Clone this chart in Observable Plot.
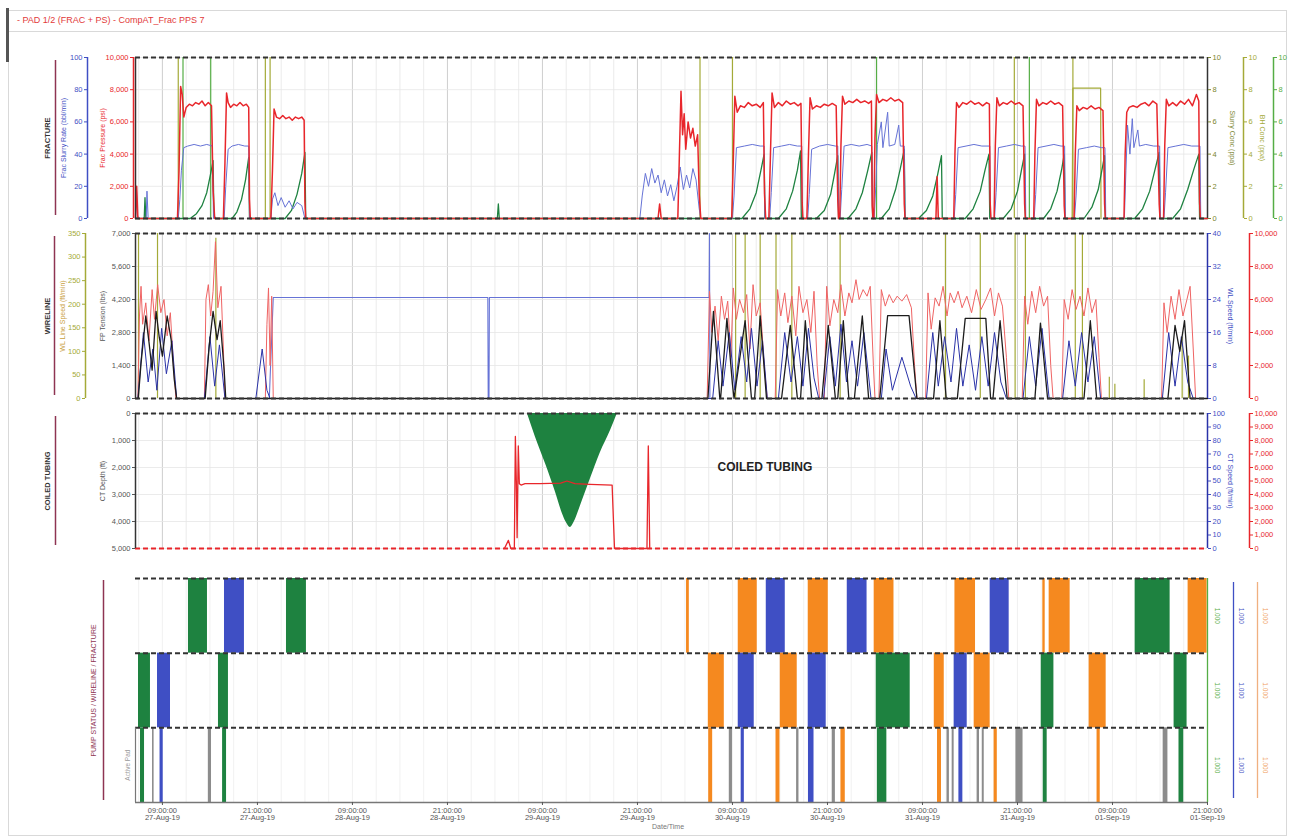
<!DOCTYPE html>
<html>
<head>
<meta charset="utf-8">
<script src="https://cdn.jsdelivr.net/npm/d3@7"></script>
<script src="https://cdn.jsdelivr.net/npm/@observablehq/plot@0.6"></script>
<style>
  body { margin: 0; background: #fff; font-family: "Liberation Sans", Arial, sans-serif; }
  #page { position: relative; width: 1293px; height: 839px; overflow: hidden; background: #fff; }
  #page svg { position: absolute; left: 0; }
  .hl { position: absolute; background: #d9d9d9; }
  #title { position: absolute; left: 17px; top: 15px; font-size: 9px; color: #e23a3a; white-space: nowrap; }
  #xlabel { position: absolute; left: 652px; top: 823px; font-size: 7px; color: #777; }
</style>
</head>
<body>
<div id="page">
  <div class="hl" style="left:8px;top:10px;width:1279px;height:1px"></div>
  <div class="hl" style="left:8px;top:31px;width:1279px;height:1px"></div>
  <div class="hl" style="left:1286px;top:10px;width:1px;height:826px"></div>
  <div class="hl" style="left:8px;top:835px;width:1279px;height:1px"></div>
  <div class="hl" style="left:8px;top:10px;width:1px;height:826px"></div>
  <div style="position:absolute;left:6px;top:8px;width:3px;height:54px;background:#555"></div>
  <div id="title">- PAD 1/2 (FRAC + PS) - CompAT_Frac PPS 7</div>
  <div id="xlabel">Date/Time</div>
</div>
<script>
// ---------- time axis (hours since 27-Aug-19 00:00) ----------
const xTickHours = [9, 21, 33, 45, 57, 69, 81, 93, 105, 117, 129, 141];
const xTickLabels = [
  "09:00:00\n27-Aug-19", "21:00:00\n27-Aug-19", "09:00:00\n28-Aug-19", "21:00:00\n28-Aug-19",
  "09:00:00\n29-Aug-19", "21:00:00\n29-Aug-19", "09:00:00\n30-Aug-19", "21:00:00\n30-Aug-19",
  "09:00:00\n31-Aug-19", "21:00:00\n31-Aug-19", "09:00:00\n01-Sep-19", "21:00:00\n01-Sep-19"
];

// ---------- FRACTURE panel ----------
const fracPressureTicks = [0, 2000, 4000, 6000, 8000, 10000];   // psi
const fracRateTicks = [0, 20, 40, 60, 80, 100];                  // bbl/min
const concTicks = [0, 2, 4, 6, 8, 10];                           // ppa

const fracPressure = [
  [5.6,0],[5.75,2000],[5.9,0],
  [10.9,0],[11.1,3000],[11.3,8200],[11.5,7700],[11.7,6300],[12.0,6900],[12.4,7100],[12.8,7000],[13.2,7200],[13.6,7100],[14.0,7300],[14.4,7000],[14.8,7200],[15.2,7000],[15.4,1800],[15.6,0],
  [16.7,0],[16.9,3500],[17.1,7800],[17.3,7200],[17.6,6900],[18.0,7100],[18.4,7000],[18.8,7200],[19.2,7000],[19.6,7100],[19.9,6900],[20.0,1200],[20.1,0],
  [22.7,0],[22.9,3000],[23.1,6800],[23.4,6300],[23.8,6200],[24.2,6400],[24.6,6200],[25.0,6300],[25.4,6100],[25.8,6300],[26.2,6200],[26.6,6300],[26.9,6100],[27.0,1000],[27.1,0],
  [71.6,0],[71.8,900],[72.0,0],
  [74.1,0],[74.3,4000],[74.5,7900],[74.7,5200],[74.9,6500],[75.1,4300],[75.4,6000],[75.7,5000],[76.0,5600],[76.3,4500],[76.6,5200],[76.8,1500],[77.0,0],
  [80.9,0],[81.1,3500],[81.3,7600],[81.6,6600],[82.0,7000],[82.5,6900],[83.0,7200],[83.5,7000],[84.0,7100],[84.5,6900],[84.9,7200],[85.05,1500],[85.2,0],
  [85.6,0],[85.8,4000],[86.0,7800],[86.3,6900],[86.8,7200],[87.3,7000],[87.8,7300],[88.3,7100],[88.8,7200],[89.3,7000],[89.65,7150],[89.8,1000],[89.9,0],
  [90.4,0],[90.6,4000],[90.8,7500],[91.1,6800],[91.6,7000],[92.1,6900],[92.6,7100],[93.1,7000],[93.6,7150],[94.1,7000],[94.3,1200],[94.4,0],
  [94.55,0],[94.7,4500],[94.9,7600],[95.2,7100],[95.7,7300],[96.2,7200],[96.7,7400],[97.2,7200],[97.7,7300],[98.2,7150],[98.55,7300],[98.65,800],[98.75,0],
  [98.85,0],[99.0,5000],[99.2,7700],[99.5,7200],[100.0,7400],[100.5,7300],[101.0,7500],[101.5,7300],[102.0,7400],[102.5,7200],[102.7,900],[102.8,0],
  [106.7,0],[106.85,2600],[107.0,0],
  [108.95,0],[109.1,4000],[109.3,7200],[109.6,6900],[110.1,7200],[110.6,7100],[111.1,7300],[111.6,7100],[112.1,7200],[112.6,7000],[113.1,7200],[113.45,7100],[113.55,1000],[113.65,0],
  [114.05,0],[114.2,4500],[114.4,7500],[114.7,7000],[115.2,7200],[115.7,7100],[116.2,7300],[116.7,7100],[117.2,7200],[117.7,7000],[117.9,900],[118.0,0],
  [119.05,0],[119.2,4000],[119.4,7400],[119.7,7000],[120.2,7200],[120.7,7100],[121.2,7300],[121.7,7100],[122.2,7200],[122.7,7000],[122.9,800],[123.0,0],
  [124.15,0],[124.3,4000],[124.5,7000],[124.8,6700],[125.3,6900],[125.8,6800],[126.3,7000],[126.8,6800],[127.3,6900],[127.8,6700],[128.0,900],[128.1,0],
  [130.45,0],[130.6,4000],[130.8,6600],[131.1,6900],[131.6,7000],[132.1,6900],[132.6,7100],[133.1,7200],[133.6,7000],[134.1,7300],[134.6,7100],[134.9,900],[135.0,0],
  [135.45,0],[135.6,4500],[135.8,7400],[136.1,7000],[136.6,7200],[137.1,7000],[137.6,7300],[138.1,7100],[138.6,7400],[139.1,7000],[139.6,7700],[139.9,7300],[140.0,1000],[140.1,0],
  [141,0]
];

const fracRate = [
  [5.6,0],[5.72,19],[5.85,2],[6.0,0],[6.95,0],[7.05,17],[7.2,0],
  [11.0,0],[11.2,12],[11.4,30],[11.7,44],[12.2,45],[13.0,46],[13.8,45],[14.6,46],[15.3,45],[15.45,0],
  [16.8,0],[17.0,20],[17.3,43],[17.8,45],[18.6,46],[19.4,45],[19.9,45],[20.0,0],
  [22.7,0],[22.9,12],[23.2,16],[23.6,8],[24.0,13],[24.5,7],[25.0,11],[25.5,6],[26.0,10],[26.6,8],[27.0,0],
  [69.3,0],[69.6,14],[70.0,28],[70.4,20],[70.8,31],[71.2,22],[71.6,27],[72.0,16],[72.4,24],[72.8,14],[73.2,21],[73.6,11],[74.0,20],[74.4,32],[74.8,18],[75.2,27],[75.6,19],[76.0,31],[76.4,24],[76.8,6],[77.0,0],
  [81.0,0],[81.2,14],[81.5,44],[82.5,45],[83.5,46],[84.5,45],[85.0,45],[85.1,0],
  [85.7,0],[85.9,16],[86.2,44],[87.2,45],[88.2,46],[89.2,45],[89.75,45],[89.85,0],
  [90.5,0],[90.7,15],[91.0,43],[92.0,45],[93.0,46],[94.0,45],[94.3,45],[94.4,0],
  [94.6,0],[94.8,18],[95.1,45],[96.0,46],[97.0,45],[98.0,46],[98.6,45],[98.7,0],
  [98.9,0],[99.1,20],[99.3,46],[99.8,60],[100.0,44],[100.6,66],[100.8,45],[101.5,46],[102.0,58],[102.2,45],[102.7,45],[102.8,0],
  [109.0,0],[109.2,15],[109.5,44],[110.5,45],[111.5,46],[112.5,45],[113.5,45],[113.6,0],
  [114.1,0],[114.3,16],[114.6,44],[115.6,45],[116.6,46],[117.5,45],[117.95,45],[118.05,0],
  [119.1,0],[119.3,15],[119.6,44],[120.6,45],[121.6,46],[122.5,45],[122.95,45],[123.05,0],
  [124.2,0],[124.4,14],[124.7,43],[125.7,44],[126.7,45],[127.6,44],[128.05,44],[128.15,0],
  [130.5,0],[130.7,30],[130.9,58],[131.2,40],[131.5,62],[131.7,44],[132.2,55],[132.4,45],[133.2,46],[134.2,45],[134.95,45],[135.05,0],
  [135.5,0],[135.7,16],[136.0,44],[137.0,45],[138.0,46],[139.0,45],[140.05,45],[140.15,0],
  [141,0]
];

const slurryConc = [
  [5.6,0],[6.7,0],[6.8,1.3],[6.9,0],
  [12.5,0],[13.3,0.3],[14.0,0.8],[14.6,1.6],[15.1,2.8],[15.4,3.6],[15.5,0.2],[15.7,0],
  [17.8,0],[18.4,0.4],[19.0,1.2],[19.5,2.4],[19.9,3.8],[20.0,0],
  [24.5,0],[25.3,0.5],[26.0,1.5],[26.6,2.8],[27.0,4.1],[27.1,0],
  [51.3,0],[51.43,0.9],[51.55,0],
  [82.2,0],[83.2,0.6],[84.0,1.6],[84.6,3.0],[85.0,4.0],[85.1,0],
  [86.8,0],[87.8,0.6],[88.6,1.7],[89.2,3.0],[89.6,4.2],[89.7,0],
  [91.6,0],[92.6,0.5],[93.4,1.5],[93.9,2.8],[94.3,3.9],[94.4,0],
  [95.6,0],[96.6,0.6],[97.4,1.6],[98.1,3.0],[98.6,4.1],[98.7,0],
  [99.8,0],[100.8,0.6],[101.6,1.8],[102.2,3.1],[102.7,4.3],[102.8,0],
  [104.5,0],[105.5,0.5],[106.3,1.4],[106.9,2.7],[107.4,3.9],[107.5,0],
  [110.4,0],[111.4,0.6],[112.3,1.7],[112.9,3.0],[113.4,4.0],[113.5,0],
  [115.2,0],[116.2,0.6],[117.0,1.7],[117.5,3.0],[117.9,4.0],[118.0,0],
  [120.3,0],[121.2,0.6],[122.0,1.7],[122.6,3.1],[122.9,4.0],[123.0,0],
  [125.4,0],[126.4,0.7],[127.2,1.8],[127.7,3.1],[128.0,3.9],[128.1,0],
  [131.8,0],[132.8,0.6],[133.7,1.7],[134.4,3.1],[134.9,4.1],[135.0,0],
  [136.6,0],[137.6,0.6],[138.5,1.8],[139.3,3.1],[139.9,4.0],[140.0,0],
  [141,0]
];

const bhConc = [
  [123.9,0],[124.0,8.1],[127.5,8.1],[127.55,0]
];
const fracOliveSpikes = [11.0, 22.0, 22.6, 76.9, 81.0, 116.6, 124.0];
const fracGreenSpikes = [11.6, 15.1, 99.2, 118.5];

// ---------- WIRELINE panel ----------
const wlTensionTicks = [0, 1400, 2800, 4200, 5600, 7000];   // lbs
const wlLineTicks = [0, 50, 100, 150, 200, 250, 300, 350];  // olive outer axis
const wlSpeedTicks = [0, 8, 16, 24, 32, 40];                // ft/min
const wlPressTicks = [0, 2000, 4000, 6000, 8000, 10000];    // psi

const wlTension = [
  [5.6,0],[5.95,0],[6.3,1500],[6.9,3500],[7.3,2400],[7.7,1200],[8.2,3700],[8.6,2600],[9.0,1800],[9.6,3500],[10.1,2500],[10.5,800],[10.8,0],
  [14.4,0],[14.9,2200],[15.4,3700],[15.9,2500],[16.3,3300],[16.8,1200],[17.0,0],
  [77.9,0],[78.6,3700],[79.4,0],[79.5,0],[80.3,3400],[81.0,600],[81.2,0],[82.6,3300],[83.4,0],
  [83.8,0],[84.5,3500],[85.3,0],[87.2,0],[88.3,3100],[89.2,0],[89.6,0],[90.2,3300],[91.0,0],
  [92.3,0],[93.1,3100],[94.0,0],[94.3,0],[95.0,3300],[95.7,0],[96.4,0],[97.4,3500],[98.2,0],
  [99.6,0],[100.6,3520],[103.3,3520],[104.3,0],
  [106.4,0],[107.2,3300],[108.0,0],
  [109.4,0],[110.4,3400],[113.0,3400],[113.6,0],
  [113.9,0],[114.8,3300],[115.7,0],
  [119.2,0],[119.9,3200],[120.8,0],
  [125.4,0],[126.2,3300],[127.0,0],
  [136.0,0],[136.9,3100],[137.5,2000],[138.1,3300],[138.8,0],
  [141,0]
];

const wlPressure = [
  [5.9,0],[6.1,5000],[6.3,6800],[6.5,4500],[6.9,5800],[7.3,3500],[7.7,6600],[8.0,4800],[8.4,6900],[8.8,5200],[9.2,6000],[9.6,3800],[10.0,5200],[10.4,2000],[10.7,0],
  [14.3,0],[14.5,6000],[14.8,6900],[15.1,5000],[15.4,6500],[15.7,9500],[16.0,5500],[16.4,6800],[16.7,3000],[16.9,0],
  [22.0,0],[22.2,4500],[22.4,6700],[22.6,2000],[22.8,6200],[23.0,0],
  [77.8,0],[78.1,6500],[78.4,4000],[78.8,5600],[79.2,3500],[79.6,6200],[80.0,4800],[80.4,5900],[80.8,2500],[81.1,6700],[81.5,4800],[81.9,6000],[82.4,5200],[82.8,6300],[83.2,3000],[83.6,6900],[84.0,5000],[84.5,5800],[85.0,2000],[85.4,0],
  [86.4,0],[86.7,6600],[87.1,5000],[87.6,6400],[88.0,4600],[88.5,6200],[89.0,3800],[89.4,6800],[89.9,5200],[90.4,6000],[90.9,4000],[91.3,6500],[91.7,2000],[92.0,0],
  [92.6,0],[92.9,6800],[93.3,4400],[93.8,6000],[94.3,5200],[94.7,6900],[95.2,5000],[95.7,6400],[96.1,5800],[96.6,7200],[97.0,6000],[97.5,6600],[98.0,6200],[98.4,6800],[98.8,2000],[99.0,0],
  [99.5,0],[99.8,6600],[100.3,5600],[100.8,6300],[101.3,5800],[101.8,6200],[102.4,5900],[103.0,6300],[103.6,5500],[104.0,2000],[104.3,0],
  [105.4,0],[105.7,6400],[106.1,4200],[106.6,6100],[107.1,5600],[107.6,6800],[108.1,5000],[108.5,6400],[109.0,5800],[109.5,6500],[110.0,5500],[110.6,6200],[111.2,5200],[111.8,6600],[112.4,5400],[113.0,6000],[113.6,6700],[114.1,5000],[114.6,6400],[115.1,5600],[115.6,2500],[115.9,0],
  [117.6,0],[117.9,6200],[118.3,4500],[118.8,6500],[119.3,5200],[119.8,6800],[120.3,5600],[120.8,6200],[121.2,2000],[121.5,0],
  [122.6,0],[122.9,6000],[123.4,4800],[123.9,6600],[124.4,5400],[124.9,6200],[125.4,5000],[125.9,6700],[126.4,5200],[126.9,6000],[127.3,2500],[127.6,0],
  [135.2,0],[135.5,5800],[135.9,4000],[136.4,6200],[136.9,4800],[137.4,6600],[137.9,5000],[138.4,6000],[138.8,6800],[139.2,3000],[139.5,0]
];

const wlSpeed = [
  [5.9,0],[6.6,16],[7.2,4],[7.8,12],[8.3,2],[8.9,17],[9.5,6],[10.2,14],[10.8,0],
  [14.3,0],[15.0,15],[15.6,3],[16.2,13],[16.9,0],
  [20.8,0],[21.6,12],[22.2,2],[22.6,0],
  [78.5,0],[79.2,14],[79.8,3],[80.6,16],[81.3,2],[82.1,15],[82.8,4],[83.4,17],[84.1,3],[84.8,14],[85.4,0],
  [86.8,0],[87.6,16],[88.4,4],[89.2,15],[89.9,3],[90.6,17],[91.3,5],[91.9,0],
  [92.5,0],[93.3,15],[94.0,3],[94.7,18],[95.4,4],[96.1,14],[96.8,3],[97.6,16],[98.5,0],
  [99.8,0],[100.4,12],[101.2,2],[102.4,10],[103.5,3],[104.2,0],
  [105.5,0],[106.3,16],[107.0,3],[107.8,15],[108.6,4],[109.3,17],[110.1,3],[110.9,13],[111.7,2],[112.5,15],[113.3,3],[114.1,16],[114.9,4],[115.6,0],
  [117.7,0],[118.5,15],[119.3,3],[120.1,17],[121.0,0],
  [122.7,0],[123.5,14],[124.3,3],[125.1,16],[125.9,4],[126.7,15],[127.5,0],
  [135.3,0],[136.1,16],[136.9,3],[137.7,15],[138.5,4],[139.2,0]
];

const wlDepthTrace = [   // ft/min scale units
  [22.5,0],[23.0,24.5],[50.1,24.5],[50.15,0],[50.25,0],[50.3,24.5],[78.05,24.5],[78.1,40],[78.15,0]
];

const wlOliveSpikes = [   // [hour, value on tension scale]
  [5.98,7000],[8.38,7000],[15.75,6800],[81.4,7000],[82.6,7000],[84.5,7000],[86.5,7000],[88.5,7000],
  [94.6,7000],[107.9,7000],[112.3,7000],[116.7,7000],[118.0,7000],[124.3,7000],[125.2,7000],
  [128.6,900],[129.3,600],[133.0,800],[137.8,2600],[138.6,1800]
];

// ---------- COILED TUBING panel ----------
const ctDepthTicks = [0, 1000, 2000, 3000, 4000, 5000];      // ft
const ctSpeedTicks = [0,10,20,30,40,50,60,70,80,90,100];      // ft/min
const ctPressTicks = [0,1000,2000,3000,4000,5000,6000,7000,8000,9000,10000]; // psi

const ctDepth = [
  [55.1,0],[56.1,860],[57.4,1870],[58.6,2870],[59.5,3690],[60.0,4030],[60.52,4220],
  [61.0,4030],[61.8,3430],[63.05,2430],[64.3,1460],[65.6,630],[66.46,0]
];
const ctPressure = [
  [52.2,0],[52.7,600],[53.0,0],[53.45,0],[53.58,8300],[53.7,5000],[53.8,800],[53.95,7600],[54.08,4800],
  [54.3,4700],[54.8,4800],[56.7,4800],[59.3,4850],[60.1,5000],[61.1,4800],[63.0,4750],[65.8,4700],[66.1,0],
  [70.2,0],[70.37,7600],[70.55,0]
];
const ctAnnotation = [{hour: 85.1, depth: 2000, text: "COILED TUBING"}];

// ---------- PUMP STATUS / WIRELINE / FRACTURE panel ----------
const wells = ["Well 1", "Well 2", "Well 3", "Idle"];
const fracStatus = [
  [12.29,14.69,"Well 1"],[16.84,19.36,"Well 2"],[24.67,27.19,"Well 1"],[75.2,75.55,"Well 3"],
  [81.73,84.13,"Well 3"],[85.27,87.67,"Well 2"],[90.57,93.1,"Well 3"],[95.5,98.0,"Well 2"],
  [98.9,101.4,"Well 3"],[109.1,111.7,"Well 3"],[113.55,115.95,"Well 2"],[120.2,120.5,"Well 3"],
  [121.0,123.65,"Well 3"],[131.86,136.28,"Well 1"],[138.55,140.95,"Well 3"]
];
const wlStatus = [
  [5.98,7.49,"Well 1"],[8.38,10.02,"Well 2"],[16.08,17.34,"Well 1"],[77.95,79.97,"Well 3"],
  [81.73,83.75,"Well 2"],[87.04,89.18,"Well 3"],[90.57,92.84,"Well 2"],[99.16,103.45,"Well 1"],
  [106.49,107.75,"Well 3"],[109.0,110.65,"Well 2"],[111.53,113.55,"Well 3"],[120.0,121.6,"Well 1"],
  [126.05,128.2,"Well 3"],[136.78,138.42,"Well 1"]
];
const pumpStatus = [
  [6.23,6.74,"Well 1"],[7.75,7.95,"Idle"],[8.7,9.1,"Well 2"],[14.8,15.2,"Idle"],[16.6,17.1,"Well 1"],
  [78.0,78.5,"Well 3"],[80.6,81.0,"Idle"],[82.1,82.5,"Well 2"],[86.5,87.0,"Well 3"],[89.1,89.4,"Idle"],
  [90.6,91.3,"Well 2"],[93.6,94.0,"Idle"],[94.7,95.25,"Well 3"],[99.3,100.5,"Well 1"],[106.9,107.4,"Well 3"],
  [108.1,108.4,"Idle"],[108.75,109.0,"Idle"],[109.6,110.1,"Well 2"],[111.9,112.2,"Idle"],[112.55,112.8,"Idle"],
  [114.05,114.45,"Well 3"],[116.8,117.7,"Idle"],[120.25,120.75,"Well 1"],[127.05,127.45,"Well 3"],
  [135.4,136.0,"Idle"],[137.4,138.0,"Well 1"]
];
const statusRows = [
  {row: 2.5, green: "1.000", blue: "1.000", orange: "1.000"},
  {row: 1.5, green: "1.000", blue: "1.000", orange: "1.000"},
  {row: 0.5, green: "1.000", blue: "1.000", orange: "1.000"}
];

// ---------- rendering ----------
const FONT = '"Liberation Sans", Arial, sans-serif';
const X0 = 5.6, X1 = 141, W = 1293, ML = 135, MR = 86;
const COL = {
  red: "#e8262b", pink: "#ef6464", blue: "#3f4fc4", lav: "#6673d6", navy: "#2a32a8",
  green: "#1e8240", lgreen: "#55ad45", olive: "#a4aa38", darkOlive: "#7b8530",
  orange: "#f5891f", grey: "#8c8c8c", black: "#1c1c1c", maroon: "#8e3452", axis: "#555"
};
const fmt = d3.format(",");
const gridFine = d3.range(6, 142, 3);
const page = document.getElementById("page");

function common(top, bottom, extraBottom = 0) {
  return {
    width: W, height: bottom - top + 20 + extraBottom,
    marginLeft: ML, marginRight: MR, marginTop: 10, marginBottom: 10 + extraBottom,
    style: {background: "transparent", fontFamily: FONT, fontSize: "7.5px", overflow: "visible"}
  };
}
function place(svg, top) { svg.style.top = (top - 10) + "px"; page.appendChild(svg); }
function frame(yTop, yBot, o = {}) {
  return [
    Plot.ruleY([yTop], {stroke: o.top || "#333", strokeWidth: 2, strokeDasharray: "5,3"}),
    Plot.ruleY([yBot], {stroke: o.bottom || "#333", strokeWidth: 2, strokeDasharray: "5,3"}),
    Plot.ruleX([X0], {stroke: o.left || "#333", strokeWidth: 1.5}),
    Plot.ruleX([X1], {stroke: o.right || "#333", strokeWidth: 1.5})
  ];
}
function axisAt(values, toY, fromY, anchor, dx, color) {
  return Plot.axisY(values.map(toY), {
    anchor, dx, color, label: null, tickSize: 3, tickPadding: 2,
    tickFormat: d => fmt(Math.round(fromY(d)))
  });
}
function axisLine(side, dx, color, w = 1.5) {
  return Plot.ruleX([side === "left" ? X0 : X1], {dx, stroke: color, strokeWidth: w});
}
function vtitle(text, side, dx, color, rotate, extra = {}) {
  return Plot.text([text], {
    text: d => d, frameAnchor: side, dx, rotate, fill: color,
    textAnchor: "middle", lineAnchor: "middle", fontSize: 7, ...extra
  });
}
function section(text, dxText, dxLine) {
  return [
    Plot.ruleX([X0], {dx: dxLine, stroke: COL.maroon, strokeWidth: 1.5, insetTop: 3, insetBottom: 3}),
    vtitle(text, "left", dxText, "#333", -90, {fontWeight: "bold", fontSize: 7.5})
  ];
}
function grid(hLines) {
  return [
    Plot.ruleX(gridFine, {stroke: "#e6e6e6", strokeWidth: 0.8}),
    Plot.ruleX(xTickHours, {stroke: "#c9c9c9", strokeWidth: 0.8}),
    Plot.ruleY(hLines, {stroke: "#e6e6e6", strokeWidth: 0.8})
  ];
}
const X = d => d[0];

// Panel 1: FRACTURE
place(Plot.plot({
  ...common(57, 218),
  x: {domain: [X0, X1], axis: null},
  y: {domain: [0, 10000]},
  marks: [
    ...grid(fracPressureTicks),
    Plot.ruleX(fracOliveSpikes, {x: d => d, stroke: COL.olive, strokeWidth: 1.2}),
    Plot.ruleX(fracGreenSpikes, {x: d => d, stroke: COL.lgreen, strokeWidth: 1.2}),
    Plot.line(bhConc, {x: X, y: d => d[1] * 1000, stroke: COL.olive, strokeWidth: 1.2}),
    Plot.line(slurryConc, {x: X, y: d => d[1] * 1000, stroke: COL.green, strokeWidth: 1.3}),
    Plot.line(fracRate, {x: X, y: d => d[1] * 100, stroke: COL.lav, strokeWidth: 1}),
    Plot.line(fracPressure, {x: X, y: d => d[1], stroke: COL.red, strokeWidth: 1.5}),
    ...frame(10000, 0),
    axisLine("left", -2, COL.red),
    axisAt(fracPressureTicks, v => v, d => d, "left", -2, COL.red),
    vtitle("Frac Pressure (psi)", "left", -33, COL.red, -90),
    axisLine("left", -48, COL.blue),
    axisAt(fracRateTicks, v => v * 100, d => d / 100, "left", -48, COL.blue),
    vtitle("Frac Slurry Rate (bbl/min)", "left", -72, COL.blue, -90),
    ...section("FRACTURE", -88, -80),
    axisAt(concTicks, v => v * 1000, d => d / 1000, "right", 0, COL.darkOlive),
    vtitle("Slurry Conc (ppa)", "right", 25, COL.darkOlive, 90),
    axisLine("right", 36, COL.olive),
    axisAt(concTicks, v => v * 1000, d => d / 1000, "right", 36, COL.olive),
    vtitle("BH Conc (ppa)", "right", 55, COL.olive, 90),
    axisLine("right", 66, COL.lgreen),
    axisAt(concTicks, v => v * 1000, d => d / 1000, "right", 66, COL.lgreen)
  ]
}), 57);

// Panel 2: WIRELINE
place(Plot.plot({
  ...common(233, 398),
  x: {domain: [X0, X1], axis: null},
  y: {domain: [0, 7000]},
  marks: [
    ...grid(wlTensionTicks),
    Plot.ruleX(wlOliveSpikes, {x: X, y1: 0, y2: d => d[1], stroke: COL.olive, strokeWidth: 1.2}),
    Plot.line(wlDepthTrace, {x: X, y: d => d[1] * 175, stroke: COL.lav, strokeWidth: 1.1}),
    Plot.line(wlPressure, {x: X, y: d => d[1] * 0.7, stroke: COL.pink, strokeWidth: 1}),
    Plot.line(wlSpeed, {x: X, y: d => d[1] * 175, stroke: COL.navy, strokeWidth: 1}),
    Plot.line(wlTension, {x: X, y: d => d[1], stroke: COL.black, strokeWidth: 1.3}),
    ...frame(7000, 0, {right: COL.navy}),
    axisAt(wlTensionTicks, v => v, d => d, "left", 0, COL.axis),
    vtitle("FP Tension (lbs)", "left", -33, COL.axis, -90),
    axisLine("left", -50, COL.olive),
    axisAt(wlLineTicks, v => v * 20, d => d / 20, "left", -50, COL.olive),
    vtitle("WL Line Speed (ft/min)", "left", -73, "#c9a040", -90),
    ...section("WIRELINE", -88, -81),
    axisAt(wlSpeedTicks, v => v * 175, d => d / 175, "right", 0, COL.blue),
    vtitle("WL Speed (ft/min)", "right", 23, COL.blue, 90),
    axisLine("right", 42, COL.red),
    axisAt(wlPressTicks, v => v * 0.7, d => d / 0.7, "right", 42, COL.red)
  ]
}), 233);

// Panel 3: COILED TUBING
place(Plot.plot({
  ...common(413, 548),
  x: {domain: [X0, X1], axis: null},
  y: {domain: [0, 5000], reverse: true},
  marks: [
    ...grid(ctDepthTicks),
    Plot.areaY(ctDepth, {x: X, y1: 0, y2: d => d[1], fill: COL.green, curve: "monotone-x"}),
    Plot.line(ctPressure, {x: X, y: d => 5000 - d[1] / 2, stroke: COL.red, strokeWidth: 1.3}),
    Plot.text(ctAnnotation, {x: "hour", y: "depth", text: "text", fill: "#222", fontSize: 12, fontWeight: "bold", textAnchor: "middle"}),
    ...frame(0, 5000, {right: COL.navy, bottom: COL.red}),
    axisAt(ctDepthTicks, v => v, d => d, "left", 0, COL.axis),
    vtitle("CT Depth (ft)", "left", -33, COL.axis, -90),
    ...section("COILED TUBING", -88, -80),
    axisAt(ctSpeedTicks, v => 5000 - v * 50, d => (5000 - d) / 50, "right", 0, COL.blue),
    vtitle("CT Speed (ft/min)", "right", 23, COL.blue, 90),
    axisLine("right", 42, COL.red),
    axisAt(ctPressTicks, v => 5000 - v / 2, d => (5000 - d) * 2, "right", 42, COL.red)
  ]
}), 413);

// Panel 4: status rows
place(Plot.plot({
  ...common(578, 802, 27),
  x: {domain: [X0, X1]},
  y: {domain: [0, 3], axis: null},
  color: {domain: wells, range: [COL.green, COL.blue, COL.orange, COL.grey]},
  marks: [
    Plot.ruleX(gridFine, {stroke: "#eeeeee", strokeWidth: 0.8}),
    Plot.rect(fracStatus, {x1: d => d[0], x2: d => d[1], y1: 2, y2: 3, fill: d => d[2]}),
    Plot.rect(wlStatus, {x1: d => d[0], x2: d => d[1], y1: 1, y2: 2, fill: d => d[2]}),
    Plot.rect(pumpStatus, {x1: d => d[0], x2: d => d[1], y1: 0, y2: 1, fill: d => d[2]}),
    Plot.ruleY([3, 2, 1], {stroke: "#333", strokeWidth: 2, strokeDasharray: "5,3"}),
    Plot.ruleY([0], {stroke: "#777", strokeWidth: 1.5}),
    Plot.ruleX([X0], {y1: 0, y2: 1, stroke: "#777", strokeWidth: 1.2}),
    Plot.ruleX([X1], {stroke: COL.lgreen, strokeWidth: 1.3}),
    Plot.axisX(xTickHours, {
      anchor: "bottom", tickSize: 3, tickPadding: 2, color: COL.axis, label: null,
      tickFormat: d => xTickLabels[xTickHours.indexOf(d)], fontSize: 7.5
    }),
    Plot.ruleX([X0], {dx: -32, stroke: COL.maroon, strokeWidth: 1.5, insetTop: 2, insetBottom: 2}),
    vtitle("PUMP STATUS / WIRELINE / FRACTURE", "left", -42, COL.maroon, -90, {fontSize: 7}),
    Plot.text(["Active Pad"], {text: d => d, y: 0.5, frameAnchor: "left", dx: -8, rotate: -90, fill: "#999", fontSize: 6.5, textAnchor: "middle", lineAnchor: "middle"}),
    Plot.text(statusRows, {y: "row", text: "green", frameAnchor: "right", dx: 10, rotate: 90, fill: COL.lgreen, fontSize: 6.5, textAnchor: "middle", lineAnchor: "middle"}),
    Plot.ruleX([X1], {dx: 26, stroke: COL.blue, strokeWidth: 1.3, insetTop: 4, insetBottom: 4}),
    Plot.text(statusRows, {y: "row", text: "blue", frameAnchor: "right", dx: 34, rotate: 90, fill: COL.blue, fontSize: 6.5, textAnchor: "middle", lineAnchor: "middle"}),
    Plot.ruleX([X1], {dx: 50, stroke: "#f0b080", strokeWidth: 1.3, insetTop: 4, insetBottom: 4}),
    Plot.text(statusRows, {y: "row", text: "orange", frameAnchor: "right", dx: 58, rotate: 90, fill: "#f0a060", fontSize: 6.5, textAnchor: "middle", lineAnchor: "middle"})
  ]
}), 578);
</script>
</body>
</html>
